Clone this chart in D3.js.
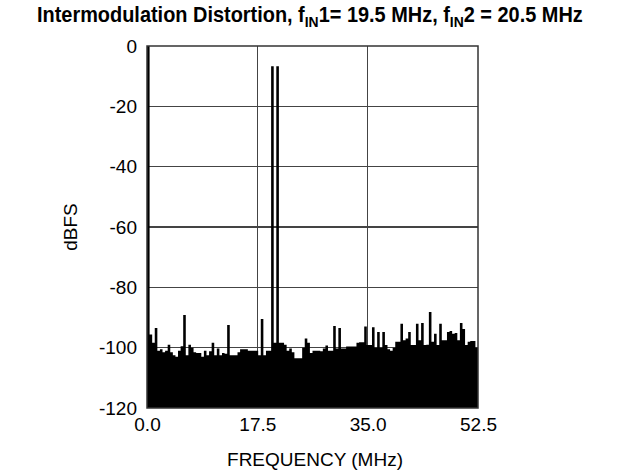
<!DOCTYPE html>
<html>
<head>
<meta charset="utf-8">
<script src="https://cdn.jsdelivr.net/npm/d3@7"></script>
<style>
  html, body { margin: 0; padding: 0; background: #fff; }
  text { font-family: "Liberation Sans", Arial, sans-serif; fill: #000; }
</style>
</head>
<body>
<svg id="chart" width="620" height="471"></svg>
<script>
// ---- data ----
const xTicks = [0, 17.5, 35.0, 52.5];
const xTickLabels = ["0.0", "17.5", "35.0", "52.5"];
const yTicks = [0, -20, -40, -60, -80, -100, -120];
const yTickLabels = ["0", "-20", "-40", "-60", "-80", "-100", "-120"];
const spanMHz = 52.5;
const binCount = 128;
// FFT magnitude per bin (dBFS), bin k starts at k * spanMHz / binCount
const dbfs = [
  0, -95.6, -98.4, -93.5, -101, -100.5, -101.5, -101, -99, -101.5,
  -102.5, -103, -101, -99.5, -89.2, -102.5, -99, -100, -101.5, -101.8,
  -101.8, -103, -101, -102.5, -101.2, -98.4, -102.5, -100.3, -102.5, -101.8,
  -102, -92.5, -102.5, -102.5, -102.5, -101.5, -100.5, -100.5, -100.5, -101,
  -101, -101, -101, -102.5, -90.5, -102.5, -101, -101, -6.7, -98.4,
  -6.7, -98.4, -98.4, -99, -101, -100.3, -101.5, -103.5, -103.5, -103.5,
  -100, -97, -98.4, -101.8, -101, -101, -101, -101.2, -100.3, -99.3,
  -101, -101, -92.8, -100.3, -93.5, -100.3, -100.3, -99.6, -99.6, -99.6,
  -99.6, -98.4, -98.2, -98.2, -93, -99.1, -99.1, -93.2, -100, -94.8,
  -100, -94.8, -99.1, -100.5, -101, -100, -98, -98, -92.1, -97.5,
  -97, -94.8, -99.1, -99.1, -92.1, -97.5, -91.8, -99.1, -99, -88.2,
  -98, -95.4, -99.1, -92.1, -97.5, -97.5, -94.8, -94.5, -95.4, -95.1,
  -97.5, -91.8, -93.8, -99.1, -98, -97.8, -97.8, -100
];

(function () {
  const svg = d3.select("#chart");
  const pL = 147, pR = 478, pT = 46, pB = 408;
  const x = d3.scaleLinear().domain([0, spanMHz]).range([pL, pR]);
  const y = d3.scaleLinear().domain([-120, 0]).range([pB, pT]);
  const binW = spanMHz / binCount;

  // gridlines
  const grid = svg.append("g").attr("stroke", "#444").attr("stroke-width", 1.2).attr("shape-rendering", "crispEdges");
  grid.selectAll("line.v").data(xTicks.slice(1, -1)).enter().append("line")
    .attr("class", "v")
    .attr("x1", d => x(d)).attr("x2", d => x(d)).attr("y1", pT).attr("y2", pB);
  grid.selectAll("line.h").data(yTicks.slice(1, -1)).enter().append("line")
    .attr("class", "h")
    .attr("y1", d => y(d)).attr("y2", d => y(d)).attr("x1", pL).attr("x2", pR);

  // spectrum as step area
  const pts = dbfs.map((v, i) => ({ f: i * binW, v }));
  pts.push({ f: spanMHz, v: dbfs[dbfs.length - 1] });
  const area = d3.area()
    .x(d => x(d.f))
    .y0(y(-120))
    .y1(d => y(d.v))
    .curve(d3.curveStepAfter);
  svg.append("path").datum(pts).attr("d", area).attr("fill", "#000");

  // frame
  svg.append("rect").attr("x", pL).attr("y", pT).attr("width", pR - pL).attr("height", pB - pT)
    .attr("fill", "none").attr("stroke", "#333").attr("stroke-width", 1.5);

  // axes (labels only)
  const xAxis = d3.axisBottom(x).tickValues(xTicks).tickFormat((d, i) => xTickLabels[i]).tickSize(0).tickPadding(10);
  const gx = svg.append("g").attr("transform", `translate(0,${pB})`).call(xAxis);
  gx.select(".domain").remove();
  gx.selectAll("text").style("font-family", "'Liberation Sans', Arial, sans-serif").style("font-size", "19px").attr("fill", "#000");

  const yAxis = d3.axisLeft(y).tickValues(yTicks).tickFormat((d, i) => yTickLabels[i]).tickSize(0).tickPadding(10);
  const gy = svg.append("g").attr("transform", `translate(${pL},0)`).call(yAxis);
  gy.select(".domain").remove();
  gy.selectAll("text").style("font-family", "'Liberation Sans', Arial, sans-serif").style("font-size", "19px").attr("fill", "#000");

  // axis titles
  svg.append("text").attr("x", 315).attr("y", 466).attr("text-anchor", "middle")
    .style("font-size", "19px").text("FREQUENCY (MHz)");
  svg.append("text").attr("transform", "translate(77,227) rotate(-90)").attr("text-anchor", "middle")
    .style("font-size", "19px").text("dBFS");

  // title with subscripts, horizontally condensed to fit the reference width
  const tg = svg.append("g");
  const title = tg.append("text").attr("x", 0).attr("y", 0).attr("text-anchor", "start")
    .style("font-size", "21.5px").style("font-weight", "bold");
  title.append("tspan").text("Intermodulation Distortion, f");
  title.append("tspan").attr("dy", 5).style("font-size", "15px").text("IN");
  title.append("tspan").attr("dy", -5).text("1= 19.5 MHz, f");
  title.append("tspan").attr("dy", 5).style("font-size", "15px").text("IN");
  title.append("tspan").attr("dy", -5).text("2 = 20.5 MHz");
  const w = title.node().getBBox().width;
  const targetW = 546;
  tg.attr("transform", `translate(${310 - targetW / 2},22) scale(${targetW / w},1)`);
})();
</script>
</body>
</html>
